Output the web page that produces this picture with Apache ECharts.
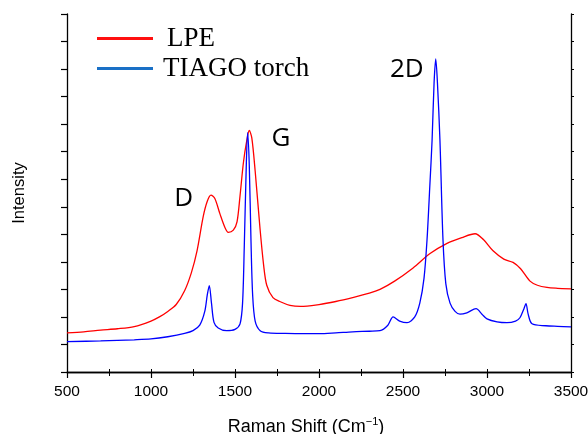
<!DOCTYPE html>
<html>
<head>
<meta charset="utf-8">
<script src="https://cdn.jsdelivr.net/npm/echarts@6/dist/echarts.min.js"></script>
<style>html,body{margin:0;padding:0;background:#fff;}#c{width:588px;height:434px;}</style>
</head>
<body>
<div id="c"></div>
<script>
var xTicks = [500, 1000, 1500, 2000, 2500, 3000, 3500];
var lpeX = [500,600,700,800,900,1000,1050,1100,1150,1200,1240,1274,1311,1335,1357,1380,1410,1440,1460,1490,1512,1530,1550,1570,1585,1600,1620,1649,1670,1689,1726,1770,1827,1890,2000,2100,2200,2300,2363,2450,2560,2661,2762,2850,2929,2980,3036,3100,3155,3200,3256,3300,3357,3420,3500];
var lpeY = [1.42,1.46,1.52,1.57,1.65,1.85,2.0,2.2,2.45,2.95,3.6,4.4,5.65,6.2,6.42,6.3,5.75,5.25,5.07,5.15,5.45,6.4,7.6,8.4,8.77,8.5,7.3,5.2,3.9,3.15,2.7,2.55,2.42,2.38,2.45,2.56,2.7,2.86,3.0,3.3,3.78,4.3,4.67,4.88,5.02,4.8,4.4,4.1,3.98,3.75,3.3,3.15,3.07,3.04,3.02];
var tiagoX = [500,700,900,1000,1100,1200,1250,1290,1320,1335,1347,1360,1375,1400,1450,1500,1530,1545,1555,1565,1575,1585,1595,1605,1620,1650,1700,1800,1900,2000,2100,2200,2300,2363,2410,2441,2480,2524,2570,2600,2625,2643,2660,2673,2685,2695,2705,2720,2738,2755,2780,2810,2839,2880,2935,2970,3000,3060,3119,3170,3196,3220,3232,3245,3268,3350,3420,3500];
var tiagoY = [1.1,1.13,1.17,1.2,1.28,1.4,1.5,1.7,2.2,2.8,3.14,2.5,1.8,1.6,1.5,1.55,1.75,2.5,4.5,7.0,8.69,7.5,4.8,2.8,1.85,1.5,1.42,1.4,1.39,1.39,1.42,1.46,1.48,1.5,1.7,2.0,1.85,1.79,2.0,2.5,3.4,4.8,6.8,8.4,10.5,11.37,10.5,8.4,4.8,3.2,2.5,2.2,2.1,2.15,2.3,2.1,1.93,1.82,1.79,1.85,1.97,2.3,2.48,2.1,1.75,1.68,1.66,1.64];
var peakNames = ['D', 'G', '2D'];
var peakX = [1195, 1773, 2523];
var peakY = [6.31, 8.49, 10.99];

function zip(a, b) { return a.map(function (v, i) { return [v, b[i]]; }); }

var chart = echarts.init(document.getElementById('c'));
var yBase = {
  type: 'value', min: 0, max: 13, interval: 1,
  axisLabel: { show: false }, splitLine: { show: false },
  axisLine: { show: true, lineStyle: { color: '#000', width: 1.3 } }
};
chart.setOption({
  animation: false,
  backgroundColor: '#fff',
  grid: { left: 67, right: 17, top: 14, bottom: 62, containLabel: false, outerBoundsMode: 'none' },
  legend: {
    orient: 'vertical', left: 92, top: 20, itemWidth: 56, itemHeight: 3, itemGap: 3,
    icon: 'rect',
    textStyle: { fontFamily: 'Liberation Serif', fontSize: 27, color: '#000' },
    data: [
      { name: 'LPE', itemStyle: { color: '#ff1010' }, textStyle: { padding: [0, 0, 0, 9] } },
      { name: 'TIAGO torch', itemStyle: { color: '#1a70c6' }, textStyle: { padding: [0, 0, 0, 5] } }
    ]
  },
  xAxis: [{
    type: 'value', min: xTicks[0], max: xTicks[xTicks.length - 1], interval: 500,
    name: 'Raman Shift (Cm{sup|\u22121})', nameLocation: 'middle', nameGap: 44,
    nameTextStyle: { fontFamily: 'Liberation Sans', fontSize: 18, color: '#000', padding: [0, 26, 0, 0],
      rich: { sup: { fontFamily: 'Liberation Sans', fontSize: 11, padding: [0, 0, 11, 0], color: '#000' } } },
    axisLine: { lineStyle: { color: '#000', width: 1.3 } },
    axisTick: { length: 6, lineStyle: { color: '#000', width: 1.2 } },
    minorTick: { show: true, splitNumber: 2, length: 4, lineStyle: { color: '#000', width: 1 } },
    axisLabel: { margin: 12, fontFamily: 'Liberation Sans', fontSize: 15.5, color: '#000',
      formatter: function (v) { return String(v); } },
    splitLine: { show: false }, minorSplitLine: { show: false }
  }, {
    type: 'value', position: 'top', min: 500, max: 3500, interval: 250,
    axisLine: { show: true, lineStyle: { color: '#000', width: 1.3 } },
    axisTick: { length: 3, lineStyle: { color: '#000' } },
    axisLabel: { show: false }, splitLine: { show: false }
  }],
  yAxis: [Object.assign({}, yBase, {
    name: 'Intensity', nameLocation: 'middle', nameGap: 39,
    nameTextStyle: { fontFamily: 'Liberation Sans', fontSize: 16.5, color: '#000' },
    axisTick: { length: 6, lineStyle: { color: '#000', width: 1.2 } }
  }), Object.assign({}, yBase, {
    position: 'right',
    axisTick: { length: 3, lineStyle: { color: '#000' } }
  })],
  series: [{
    name: 'LPE', type: 'line', data: zip(lpeX, lpeY), showSymbol: false, smooth: 0.3,
    lineStyle: { color: '#ff0000', width: 1.3 }, itemStyle: { color: '#ff0000' }, z: 2
  }, {
    name: 'TIAGO torch', type: 'line', data: zip(tiagoX, tiagoY), showSymbol: false, smooth: 0.3,
    lineStyle: { color: '#0000ff', width: 1.3 }, itemStyle: { color: '#0000ff' }, z: 3,
    markPoint: {
      symbol: 'circle', symbolSize: 0, silent: true,
      label: { show: true, position: 'inside', fontFamily: 'Open Sans', fontSize: 26, color: '#000',
        formatter: function (p) { return p.name; } },
      data: peakNames.map(function (n, i) { return { name: n, coord: [peakX[i], peakY[i]] }; })
    }
  }]
});
</script>
</body>
</html>
